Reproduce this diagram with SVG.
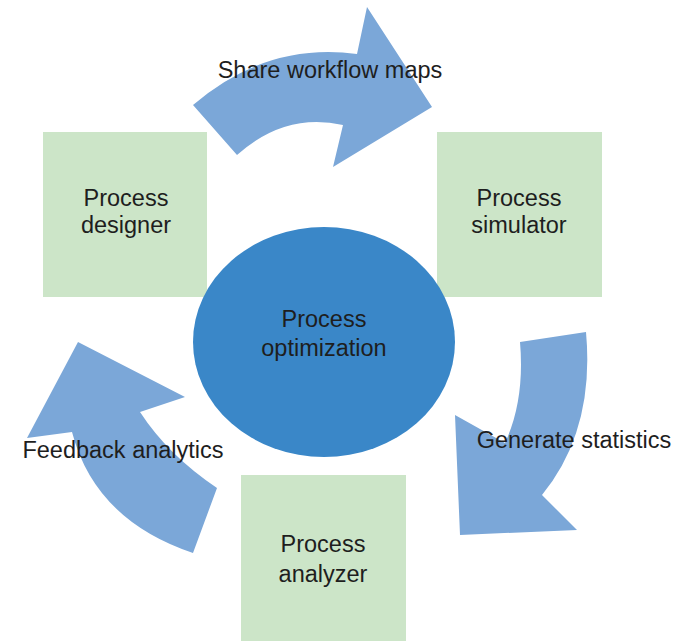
<svg xmlns="http://www.w3.org/2000/svg" width="686" height="641" viewBox="0 0 686 641">
<style>
.box{fill:#cce5c8}
.hub{fill:#3a87c8}
.arr{fill:#7ba7d8}
text{font-family:"Liberation Sans",Arial,sans-serif;font-size:23.5px;fill:#1e1e1e;text-anchor:middle}
</style>
<rect width="686" height="641" fill="#ffffff"/>
<g id="connectors">
<path class="arr" d="M193,105 Q266,42 357,54 L367,7 L432,107 L333,167 L343,125 Q285,112 237,155 Z"/>
<path class="arr" d="M586,332 Q595,430 542,495 L577,530 L460,535 L455,415 L505,443 Q525,400 520,342 Z"/>
<path class="arr" d="M193,553 Q95,520 72,432 L27,438 L78,342 L185,397 L140,412 Q168,455 217,488 Z"/>
<text x="330" y="78">Share workflow maps</text>
<text x="574" y="448">Generate statistics</text>
<text x="123" y="458">Feedback analytics</text>
</g>
<g id="designer">
<rect class="box" x="43" y="132" width="164" height="165"/>
<text x="126" y="206">Process</text>
<text x="126" y="233">designer</text>
</g>
<g id="simulator">
<rect class="box" x="437" y="132" width="165" height="165"/>
<text x="519" y="206">Process</text>
<text x="519" y="233">simulator</text>
</g>
<g id="analyzer">
<rect class="box" x="241" y="475" width="165" height="166"/>
<text x="323" y="552">Process</text>
<text x="323" y="582">analyzer</text>
</g>
<g id="optimization">
<ellipse class="hub" cx="324" cy="342" rx="131" ry="115"/>
<text x="324" y="327">Process</text>
<text x="324" y="356">optimization</text>
</g>
</svg>
